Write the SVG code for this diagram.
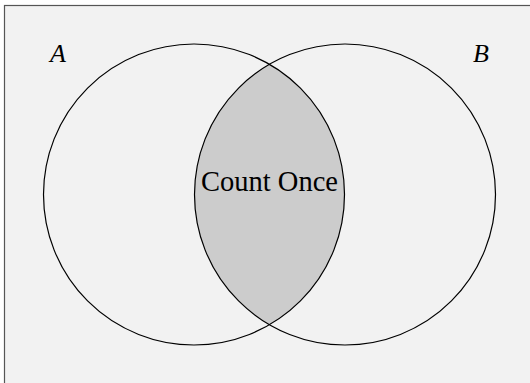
<svg xmlns="http://www.w3.org/2000/svg" width="530" height="383" viewBox="0 0 530 383">
<style>
.c{fill:none;stroke:#000;stroke-width:1.2}
.t{font-family:"Liberation Serif","DejaVu Serif",serif;fill:#000}
</style>
<rect x="0" y="0" width="530" height="383" fill="#fff"/>
<rect id="universe" x="4.5" y="5.5" width="540" height="400" fill="#f2f2f2" stroke="#555" stroke-width="1.2"/>
<g id="intersection">
<path d="M269.5,64.3 A150.5,150.5 0 0 1 269.5,324.7 A150.5,150.5 0 0 1 269.5,64.3 Z" fill="#cccccc"/>
<text class="t" x="269.5" y="191" font-size="28.5" text-anchor="middle">Count Once</text>
</g>
<g id="setA">
<circle class="c" cx="194" cy="194.5" r="150.5"/>
<text class="t" x="58" y="62" font-size="26" font-style="italic" text-anchor="middle">A</text>
</g>
<g id="setB">
<circle class="c" cx="345" cy="194.5" r="150.5"/>
<text class="t" x="481" y="62" font-size="26" font-style="italic" text-anchor="middle">B</text>
</g>
<g id="connectors"></g>
</svg>
